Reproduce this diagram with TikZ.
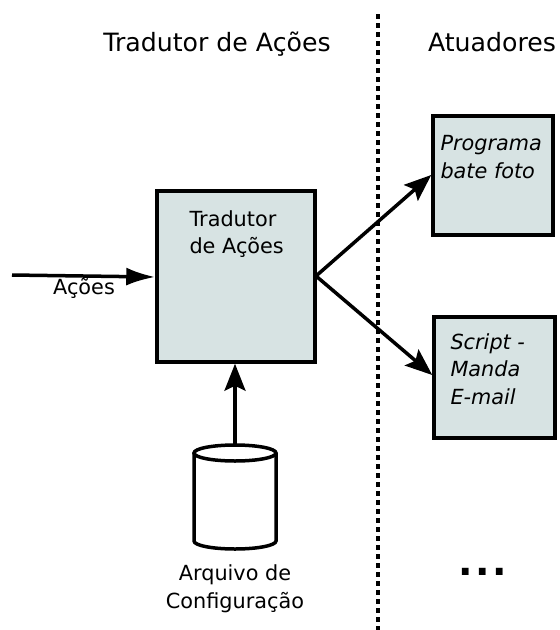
\documentclass[tikz,border=0pt]{standalone}
\usepackage{fontspec}
\setmainfont{DejaVu Sans}
\usepackage{tikz}
\usetikzlibrary{calc, positioning, shapes, arrows.meta}
\definecolor{caixa}{RGB}{215,227,227}
\tikzset{
    bloco/.style={rectangle, draw, line width=3.5pt, fill=caixa, inner sep=0pt},
    seta/.style={line width=3.5pt, -{Stealth[length=27pt, width=21pt, inset=5pt]}},
    texto/.style={font=\fontsize{20.8}{27.5}\selectfont, align=left},
    titulo/.style={font=\fontsize{25.2}{30}\selectfont},
}

\begin{document}
\begin{tikzpicture}[x=1pt, y=-1pt]
    \useasboundingbox (0,0) rectangle (560,630);

    % titulos e divisao
    \node[titulo] (tTrad) at (217,44) {Tradutor de Ações};
    \node[titulo] (tAtu) at (492,42) {Atuadores};
    \coordinate (divA) at (378,14);
    \coordinate (divB) at (378,630);
    \draw[line width=3.5pt, dash pattern=on 5pt off 4pt] (divA) -- (divB);

    % tradutor
    \node[bloco, minimum width=158pt, minimum height=171pt] (trad) at (236,276.5) {};
    \node[texto, anchor=north west] (tradTxt) at (186,207) {Tradutor\\de Ações};

    % entrada
    \coordinate (entra) at (12,275);
    \draw[seta, -{Latex[length=29pt, width=18pt]}] (entra) -- (trad.west |- 0,277);
    \node[texto] (acoes) at (84,288) {Ações};

    % atuadores
    \node[bloco, minimum width=120pt, minimum height=119pt] (prog) at (493,175.5) {};
    \node[texto, anchor=north west, font=\fontsize{20.8}{27.5}\selectfont\itshape] (progTxt) at (437,132) {Programa\\bate foto};
    \node[bloco, minimum width=121pt, minimum height=121pt] (script) at (494.5,377.5) {};
    \node[texto, anchor=north west, font=\fontsize{20.8}{27.5}\selectfont\itshape] (scriptTxt) at (447,330) {Script -\\Manda\\E-mail};
    \node[font=\bfseries\fontsize{38}{38}\selectfont] (pontos) at (483,572) {.\kern2.5pt.\kern2.5pt.};

    \coordinate (sai) at (316,276);
    \draw[seta] (sai) -- (prog.west |- 0,175);
    \draw[seta] (sai) -- (script.west |- 0,375);

    % arquivo
    \coordinate (arq) at (235,453);
    \draw[line width=3.5pt, fill=white] (194,453) -- (194,541)
        arc[start angle=180, end angle=360, x radius=41pt, y radius=8pt]
        -- (276,453);
    \draw[line width=3.5pt, fill=white] (arq) ellipse[x radius=41pt, y radius=8pt];
    \draw[seta] ($(arq)+(0,-8)$) -- (trad.south -| arq);
    \node[texto, align=center] (arqTxt) at (235,589) {Arquivo de\\Configuração};
\end{tikzpicture}
\end{document}
